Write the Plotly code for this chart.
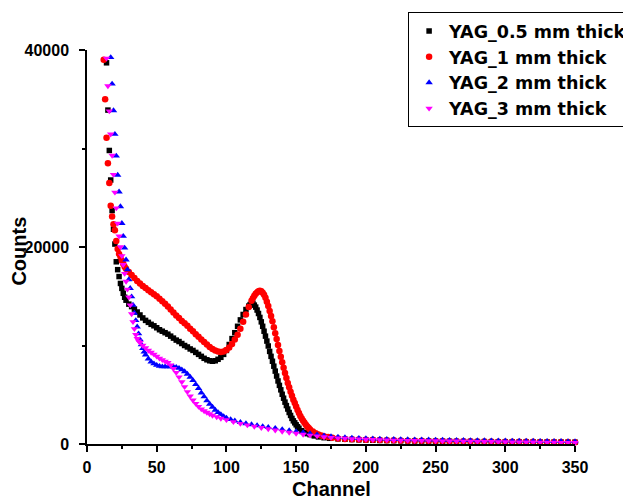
import plotly.graph_objects as go

# channel grid for the flat tail (shared by all four spectra)
tail_ch = [180, 185, 190, 195, 200, 205, 210, 215, 220, 225, 230, 235, 240, 245, 250, 255, 260, 265,
           270, 275, 280, 285, 290, 295, 300, 305, 310, 315, 320, 325, 330, 335, 340, 345, 350]

# YAG 0.5 mm
ch_05 = [14, 15, 16, 17, 18, 19, 20, 21, 22, 23, 24, 25, 26, 27, 28, 30, 32, 34, 36, 38, 40, 42, 44, 46,
         48, 50, 52, 54, 56, 58, 60, 62, 64, 66, 68, 70, 72, 74, 76, 78, 80, 82, 84, 86, 88, 90, 92, 94,
         96, 98, 100, 102, 104, 106, 108, 110, 112, 114, 116, 117, 118, 119, 120, 121, 122, 123, 124,
         125, 126, 127, 128, 129, 130, 131, 132, 133, 134, 135, 136, 137, 138, 139, 140, 141, 142, 143,
         144, 145, 146, 147, 148, 149, 150, 151, 152, 154, 156, 158, 160, 163, 166, 170, 174]
cnt_05 = [38700, 33900, 29800, 26800, 23700, 21800, 20300, 18500, 17700, 17000, 16300, 15800, 15300,
          14900, 14600, 14200, 13950, 13700, 13400, 13100, 12800, 12550, 12350, 12150, 12000, 11800,
          11600, 11450, 11300, 11150, 10950, 10750, 10550, 10400, 10200, 10000, 9850, 9650, 9500, 9300,
          9100, 8900, 8700, 8550, 8450, 8400, 8450, 8600, 8800, 9100, 9500, 10100, 10700, 11300, 11950,
          12600, 13150, 13650, 14000, 14150, 14250, 14300, 14100, 13900, 13600, 13250, 12850, 12400,
          11950, 11450, 10950, 10450, 9950, 9400, 8900, 8400, 7900, 7400, 6900, 6400, 5950, 5500, 5050,
          4650, 4250, 3900, 3550, 3200, 2900, 2600, 2350, 2150, 1950, 1750, 1600, 1350, 1180, 1050, 950,
          820, 720, 640, 580]
tail_05 = [520, 480, 450, 420, 400, 380, 360, 350, 340, 330, 320, 310, 300, 290, 280, 280, 270, 260,
           250, 250, 240, 240, 230, 230, 220, 220, 210, 210, 200, 200, 200, 190, 190, 180, 180]

# YAG 1 mm
ch_1 = [12, 13, 14, 15, 16, 17, 18, 19, 20, 21, 22, 23, 24, 25, 26, 27, 28, 30, 32, 34, 36, 38, 40, 42,
        44, 46, 48, 50, 52, 54, 56, 58, 60, 62, 64, 66, 68, 70, 72, 74, 76, 78, 80, 82, 84, 86, 88, 90,
        92, 94, 96, 98, 100, 102, 104, 106, 108, 110, 112, 114, 116, 118, 119, 120, 121, 122, 123, 124,
        125, 126, 127, 128, 129, 130, 131, 132, 133, 134, 135, 136, 137, 138, 139, 140, 141, 142, 143,
        144, 145, 146, 147, 148, 149, 150, 151, 152, 153, 154, 155, 156, 157, 158, 159, 160, 162, 164,
        166, 168, 170, 173, 176]
cnt_1 = [39000, 35000, 31100, 28500, 26500, 24200, 23100, 22300, 21700, 20600, 19800, 19300, 19000,
         18600, 18300, 18000, 17800, 17450, 17150, 16850, 16550, 16300, 16050, 15850, 15600, 15400,
         15200, 15000, 14750, 14500, 14250, 13950, 13650, 13350, 13050, 12800, 12500, 12250, 12000,
         11700, 11450, 11150, 10900, 10600, 10350, 10100, 9850, 9650, 9500, 9400, 9350, 9400, 9550,
         9800, 10150, 10600, 11100, 11700, 12400, 13150, 13900, 14550, 14800, 15050, 15250, 15400,
         15500, 15550, 15500, 15350, 15150, 14850, 14450, 14000, 13500, 13000, 12450, 11850, 11250,
         10650, 10050, 9450, 8850, 8300, 7750, 7200, 6700, 6200, 5750, 5300, 4900, 4500, 4150, 3800,
         3450, 3150, 2850, 2600, 2350, 2150, 1950, 1780, 1620, 1480, 1260, 1100, 970, 870, 790, 700, 630]
tail_1 = [570, 520, 490, 460, 440, 420, 400, 380, 370, 360, 340, 330, 320, 310, 300, 300, 290, 280,
          270, 270, 260, 250, 250, 240, 240, 230, 230, 220, 220, 210, 210, 200, 200, 200, 190]

# YAG 2 mm
ch_2 = [17, 18, 19, 20, 21, 22, 23, 24, 25, 26, 27, 28, 29, 30, 31, 32, 33, 34, 35, 36, 37, 38, 39, 40,
        41, 42, 44, 46, 48, 50, 52, 54, 56, 58, 60, 62, 64, 66, 68, 70, 72, 74, 76, 78, 80, 82, 84, 86,
        88, 90, 92, 94, 96, 98, 100, 103, 106, 110, 114, 118, 122, 126, 130, 135, 140, 145, 150, 155,
        160, 165, 170, 175]
cnt_2 = [39250, 36550, 33850, 31450, 29250, 27300, 25600, 24100, 22400, 21100, 19900, 18700, 17700,
         16700, 15800, 14950, 14100, 13300, 12550, 11900, 11200, 10600, 10100, 9700, 9350, 9050, 8650,
         8350, 8150, 8000, 7900, 7850, 7850, 7850, 7850, 7850, 7800, 7700, 7550, 7350, 7100, 6800,
         6450, 6050, 5650, 5200, 4800, 4400, 4050, 3750, 3450, 3200, 3000, 2800, 2650, 2500, 2350,
         2200, 2080, 1970, 1870, 1780, 1700, 1600, 1480, 1370, 1260, 1160, 1060, 950, 850, 760]
tail_2 = [700, 650, 610, 580, 550, 530, 510, 490, 470, 460, 450, 440, 430, 420, 410, 400, 390, 380,
          370, 360, 350, 345, 340, 330, 320, 315, 310, 300, 295, 290, 280, 275, 270, 260, 250]

# YAG 3 mm
ch_3 = [14, 15, 16, 17, 18, 19, 20, 21, 22, 23, 24, 25, 26, 27, 28, 29, 30, 31, 32, 33, 34, 35, 36, 37,
        38, 40, 42, 44, 46, 48, 50, 52, 54, 56, 58, 60, 62, 64, 66, 68, 70, 72, 74, 76, 78, 80, 82, 84,
        86, 88, 90, 93, 96, 100, 105, 110, 115, 120, 125, 130, 135, 140, 145, 150, 155, 160, 165, 170,
        175]
cnt_3 = [39150, 36350, 33800, 31450, 29300, 27350, 25550, 23950, 22400, 21100, 20000, 19100, 18200,
         17300, 16500, 15700, 14900, 14100, 13200, 12400, 11700, 11100, 10700, 10450, 10300, 10000,
         9750, 9500, 9300, 9100, 8900, 8700, 8550, 8400, 8250, 8000, 7650, 7250, 6800, 6300, 5800,
         5300, 4850, 4450, 4100, 3800, 3550, 3350, 3200, 3050, 2900, 2750, 2600, 2450, 2250, 2080,
         1920, 1780, 1650, 1530, 1400, 1280, 1170, 1070, 970, 880, 800, 720, 650]
tail_3 = [600, 560, 520, 490, 460, 440, 420, 400, 380, 360, 350, 340, 330, 320, 310, 300, 290, 280,
          270, 260, 250, 240, 230, 220, 210, 200, 195, 190, 180, 170, 165, 160, 150, 140, 130]

names = ["YAG_0.5 mm thick", "YAG_1 mm thick", "YAG_2 mm thick", "YAG_3 mm thick"]
colors = ["#000000", "#ff0000", "#0000ff", "#ff00ff"]
symbols = ["square", "circle", "triangle-up", "triangle-down"]
sizes = [5.5, 6.5, 6.5, 6.5]

series = [(ch_05, cnt_05, tail_05), (ch_1, cnt_1, tail_1), (ch_2, cnt_2, tail_2), (ch_3, cnt_3, tail_3)]

fig = go.Figure()
for (ch, cnt, tail), name, col, sym, sz in zip(series, names, colors, symbols, sizes):
    fig.add_trace(go.Scatter(
        x=ch + tail_ch, y=cnt + tail, mode="markers", name=name, cliponaxis=False,
        marker=dict(symbol=sym, size=sz, color=col, line=dict(width=0)),
    ))

bold = dict(family="Liberation Sans, Arial, sans-serif", color="black", weight="bold")

axis_common = dict(
    showline=True, linecolor="black", linewidth=1.5, showgrid=False, zeroline=False,
    ticks="outside", ticklen=6, tickwidth=1.5, tickcolor="black", automargin=False,
    tickfont=dict(size=16, **bold),
)

# the page body has an 8px margin, so the figure is drawn 8px right/down of the window corner
fig.update_layout(
    width=631, height=499,
    margin=dict(l=79, r=64, t=42, b=63, autoexpand=False),
    paper_bgcolor="white", plot_bgcolor="white",
    xaxis=dict(range=[0, 350], tick0=0, dtick=50, ticklabelstandoff=2,
               minor=dict(dtick=25, ticklen=3, tickwidth=1.5, tickcolor="black", ticks="outside"),
               **axis_common),
    yaxis=dict(range=[0, 40000], tick0=0, dtick=20000, tickformat="d", ticklabelstandoff=7,
               minor=dict(dtick=10000, ticklen=3, tickwidth=1.5, tickcolor="black", ticks="outside"),
               **axis_common),
    legend=dict(x=0.658, y=1.096, xanchor="left", yanchor="top",
                bordercolor="black", borderwidth=1, bgcolor="white",
                font=dict(size=17.5, family="DejaVu Sans, sans-serif", color="black", weight="bold")),
    annotations=[
        dict(text="Channel", xref="paper", yref="paper", x=0.502, y=-0.114,
             xanchor="center", yanchor="middle", showarrow=False, font=dict(size=20, **bold)),
        dict(text="Counts", xref="paper", yref="paper", x=-0.14, y=0.49, textangle=-90,
             xanchor="center", yanchor="middle", showarrow=False, font=dict(size=20, **bold)),
    ],
)

fig.write_html("out.html")
